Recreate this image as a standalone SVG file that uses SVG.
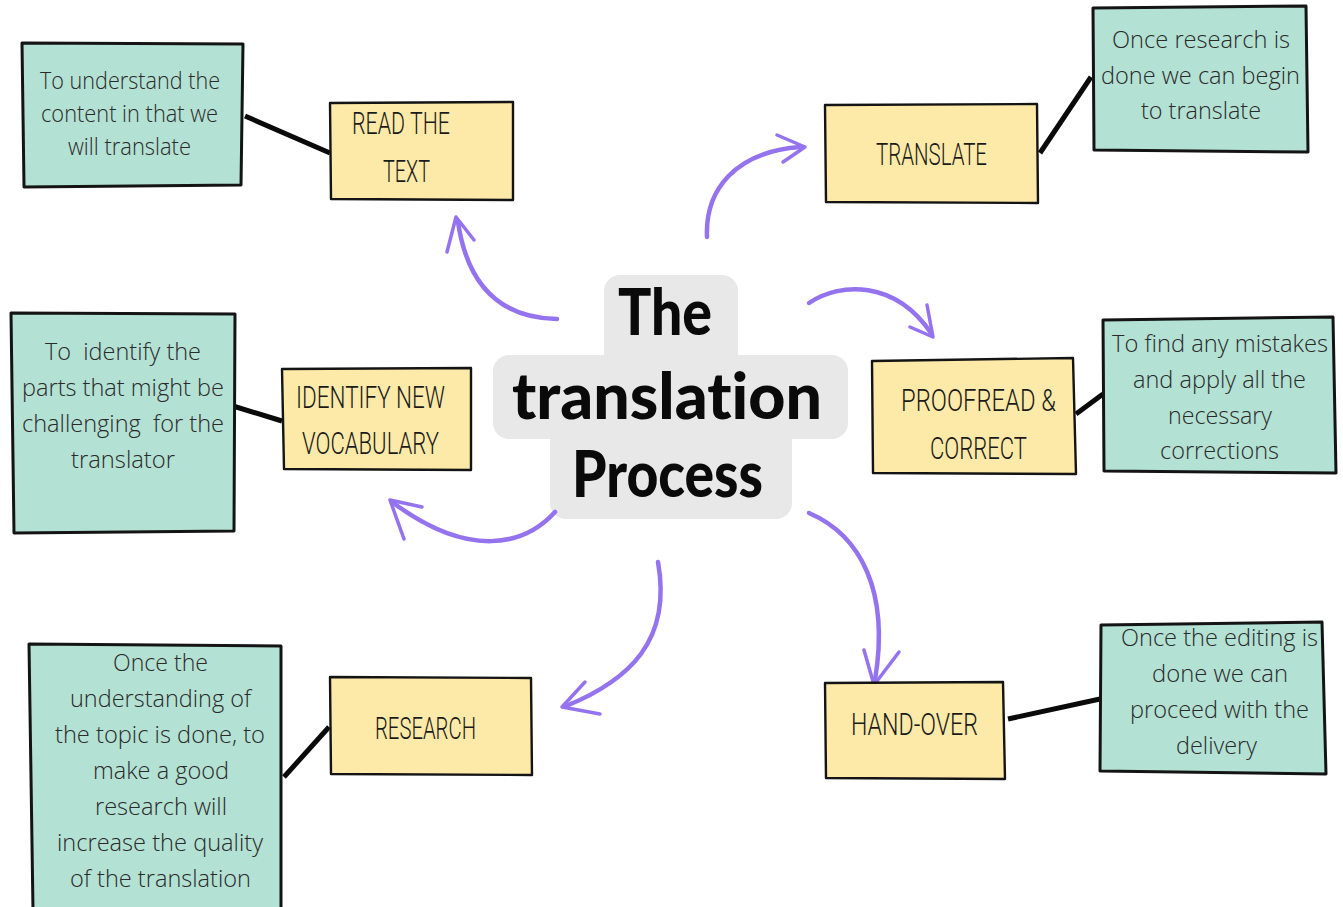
<svg xmlns="http://www.w3.org/2000/svg" width="1343" height="907" viewBox="0 0 1343 907">
<style>
.bg{fill:#ffffff}
.y{fill:#fdeaa8;stroke:#141414;stroke-width:2.4;stroke-linejoin:round}
.gr{fill:#b3e1d3;stroke:#141414;stroke-width:3;stroke-linejoin:round}
.gt{font-family:"Open Sans","Liberation Sans",sans-serif;font-weight:300;font-size:23px;fill:#2a2a2a;white-space:pre}
.yt{font-family:Roboto,"Liberation Sans",sans-serif;font-weight:300;font-size:32px;fill:#1a1a1a}
.tt{font-family:Lato,"Liberation Sans",sans-serif;font-weight:900;font-size:64px;fill:#0a0a0a;font-variant-ligatures:none}
.ln{stroke:#0a0a0a;stroke-width:5;stroke-linecap:butt;fill:none}
.ar{stroke:#9573ee;stroke-width:4.5;stroke-linecap:round;fill:none}
.ah{stroke:#9573ee;stroke-width:3.5;stroke-linecap:round;fill:none}
.cb{fill:#e8e8e8}
</style>
<rect class="bg" x="0" y="0" width="1343" height="907"/>

<g id="center">
<rect class="cb" x="604" y="275" width="134" height="100" rx="16"/>
<rect class="cb" x="493" y="355" width="355" height="84" rx="16"/>
<rect class="cb" x="550" y="420" width="242" height="99" rx="16"/>
<text class="tt" x="618" y="335" textLength="94" lengthAdjust="spacingAndGlyphs">The</text>
<text class="tt" x="512" y="419" textLength="310" lengthAdjust="spacingAndGlyphs">translation</text>
<text class="tt" x="572" y="497" textLength="191" lengthAdjust="spacingAndGlyphs">Process</text>
</g>

<g id="connectors">
<path class="ln" d="M245,116 L330,153"/>
<path class="ln" d="M1040,153 L1091,77"/>
<path class="ln" d="M233,406 L282,421"/>
<path class="ln" d="M1076,414 L1103,394"/>
<path class="ln" d="M284,777 L329,727"/>
<path class="ln" d="M1008,719 L1100,699"/>
<path class="ar" d="M557,319 C505,318 468,290 458,222"/>
<path class="ah" d="M456,217 L447,252 M456,217 L474,240"/>
<path class="ar" d="M707,237 C705,190 735,152 800,147"/>
<path class="ah" d="M805,147 L777,135 M805,147 L783,162"/>
<path class="ar" d="M809,303 C840,282 895,280 931,333"/>
<path class="ah" d="M933,337 L927,305 M933,337 L910,327"/>
<path class="ar" d="M555,512 C525,545 470,560 392,502"/>
<path class="ah" d="M390,500 L422,507 M390,500 L404,539"/>
<path class="ar" d="M658,562 C672,640 630,680 566,706"/>
<path class="ah" d="M562,707 L585,682 M562,707 L600,714"/>
<path class="ar" d="M809,513 C860,535 890,590 875,680"/>
<path class="ah" d="M874,685 L864,650 M874,685 L899,652"/>
</g>

<g id="read-the-text">
<path class="y" d="M330,103 L513,102 L513,200 L331,199 Z"/>
<text class="yt" x="352" y="134" textLength="98" lengthAdjust="spacingAndGlyphs">READ THE</text>
<text class="yt" x="383" y="182" textLength="47" lengthAdjust="spacingAndGlyphs">TEXT</text>
</g>

<g id="translate">
<path class="y" d="M825,105 L1037,104 L1038,203 L826,202 Z"/>
<text class="yt" x="876" y="165" textLength="111" lengthAdjust="spacingAndGlyphs">TRANSLATE</text>
</g>

<g id="identify">
<path class="y" d="M282,369 L471,368 L471,470 L284,469 Z"/>
<text class="yt" x="296" y="408" textLength="149" lengthAdjust="spacingAndGlyphs">IDENTIFY NEW</text>
<text class="yt" x="302" y="454" textLength="137" lengthAdjust="spacingAndGlyphs">VOCABULARY</text>
</g>

<g id="proofread">
<path class="y" d="M872,361 L1073,358 L1076,474 L873,473 Z"/>
<text class="yt" x="901" y="411" textLength="155" lengthAdjust="spacingAndGlyphs">PROOFREAD &amp;</text>
<text class="yt" x="930" y="459" textLength="97" lengthAdjust="spacingAndGlyphs">CORRECT</text>
</g>

<g id="research">
<path class="y" d="M330,677 L531,678 L532,775 L331,774 Z"/>
<text class="yt" x="375" y="739" textLength="101" lengthAdjust="spacingAndGlyphs">RESEARCH</text>
</g>

<g id="hand-over">
<path class="y" d="M825,683 L1003,682 L1005,779 L826,778 Z"/>
<text class="yt" x="851" y="735" textLength="127" lengthAdjust="spacingAndGlyphs">HAND-OVER</text>
</g>

<g id="note-read">
<path class="gr" d="M22,43 L243,44 L241,185 L24,187 Z"/>
<text class="gt" x="40" y="89" textLength="180" lengthAdjust="spacingAndGlyphs">To understand the</text>
<text class="gt" x="41" y="122" textLength="177" lengthAdjust="spacingAndGlyphs">content in that we</text>
<text class="gt" x="68" y="155" textLength="123" lengthAdjust="spacingAndGlyphs">will translate</text>
</g>

<g id="note-translate">
<path class="gr" d="M1093,8 L1306,6 L1308,152 L1094,150 Z"/>
<text class="gt" x="1112" y="48" textLength="178" lengthAdjust="spacingAndGlyphs">Once research is</text>
<text class="gt" x="1101" y="84" textLength="199" lengthAdjust="spacingAndGlyphs">done we can begin</text>
<text class="gt" x="1141" y="119" textLength="120" lengthAdjust="spacingAndGlyphs">to translate</text>
</g>

<g id="note-identify">
<path class="gr" d="M11,313 L235,314 L234,531 L14,533 Z"/>
<text class="gt" x="45" y="360" textLength="156" lengthAdjust="spacingAndGlyphs">To  identify the</text>
<text class="gt" x="22" y="396" textLength="202" lengthAdjust="spacingAndGlyphs">parts that might be</text>
<text class="gt" x="22" y="432" textLength="202" lengthAdjust="spacingAndGlyphs">challenging  for the</text>
<text class="gt" x="71" y="468" textLength="104" lengthAdjust="spacingAndGlyphs">translator</text>
</g>

<g id="note-proofread">
<path class="gr" d="M1103,320 L1333,317 L1336,473 L1104,471 Z"/>
<text class="gt" x="1112" y="352" textLength="216" lengthAdjust="spacingAndGlyphs">To find any mistakes</text>
<text class="gt" x="1133" y="388" textLength="173" lengthAdjust="spacingAndGlyphs">and apply all the</text>
<text class="gt" x="1168" y="424" textLength="104" lengthAdjust="spacingAndGlyphs">necessary</text>
<text class="gt" x="1160" y="459" textLength="119" lengthAdjust="spacingAndGlyphs">corrections</text>
</g>

<g id="note-research">
<path class="gr" d="M29,644 L281,646 L281,910 L33,910 Z"/>
<text class="gt" x="113" y="671" textLength="95" lengthAdjust="spacingAndGlyphs">Once the</text>
<text class="gt" x="70" y="707" textLength="181" lengthAdjust="spacingAndGlyphs">understanding of</text>
<text class="gt" x="55" y="743" textLength="210" lengthAdjust="spacingAndGlyphs">the topic is done, to</text>
<text class="gt" x="93" y="779" textLength="136" lengthAdjust="spacingAndGlyphs">make a good</text>
<text class="gt" x="95" y="815" textLength="132" lengthAdjust="spacingAndGlyphs">research will</text>
<text class="gt" x="57" y="851" textLength="206" lengthAdjust="spacingAndGlyphs">increase the quality</text>
<text class="gt" x="70" y="887" textLength="181" lengthAdjust="spacingAndGlyphs">of the translation</text>
</g>

<g id="note-hand-over">
<path class="gr" d="M1101,625 L1322,622 L1326,774 L1100,771 Z"/>
<text class="gt" x="1121" y="646" textLength="197" lengthAdjust="spacingAndGlyphs">Once the editing is</text>
<text class="gt" x="1152" y="682" textLength="136" lengthAdjust="spacingAndGlyphs">done we can</text>
<text class="gt" x="1130" y="718" textLength="179" lengthAdjust="spacingAndGlyphs">proceed with the</text>
<text class="gt" x="1176" y="754" textLength="81" lengthAdjust="spacingAndGlyphs">delivery</text>
</g>
</svg>
